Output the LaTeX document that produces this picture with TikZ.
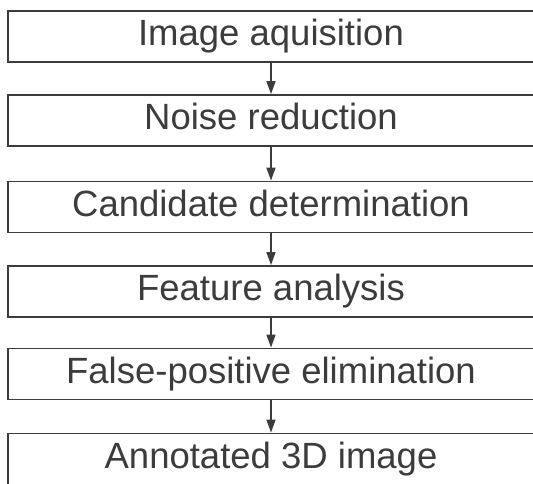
\documentclass[tikz,border=0pt]{standalone}
\usepackage{fontspec}
\setmainfont{Liberation Sans}
\usetikzlibrary{arrows.meta}
\definecolor{ink}{HTML}{3C3C3C}
\begin{document}
\begin{tikzpicture}[x=1pt,y=-1pt,
  stepbox/.style={draw=ink, line width=1.8pt, minimum width=526pt, minimum height=51pt,
    inner sep=0pt, text=ink, font=\fontsize{36.5}{36.5}\selectfont,
    text height=26.3pt, text depth=7.7pt, anchor=center},
  flow/.style={draw=ink, line width=1.6pt, -{Triangle[length=13pt,width=9pt]}}]
  \useasboundingbox (0,0) rectangle (533,484);
  \clip (0,0) rectangle (533,484);
  \fill[white] (0,0) rectangle (533,484);
  \node[stepbox] (s1) at (271,36.5) {Image aquisition};
  \node[stepbox] (s2) at (271,120.5) {Noise reduction};
  \node[stepbox] (s3) at (271,207) {Candidate determination};
  \node[stepbox] (s4) at (271,291.5) {Feature analysis};
  \node[stepbox] (s5) at (271,374) {False-positive elimination};
  \node[stepbox] (s6) at (271,459) {Annotated 3D image};
  \foreach \a/\b in {s1/s2,s2/s3,s3/s4,s4/s5,s5/s6}
    \draw[flow] (\a.south) -- (\b.north);
\end{tikzpicture}
\end{document}
